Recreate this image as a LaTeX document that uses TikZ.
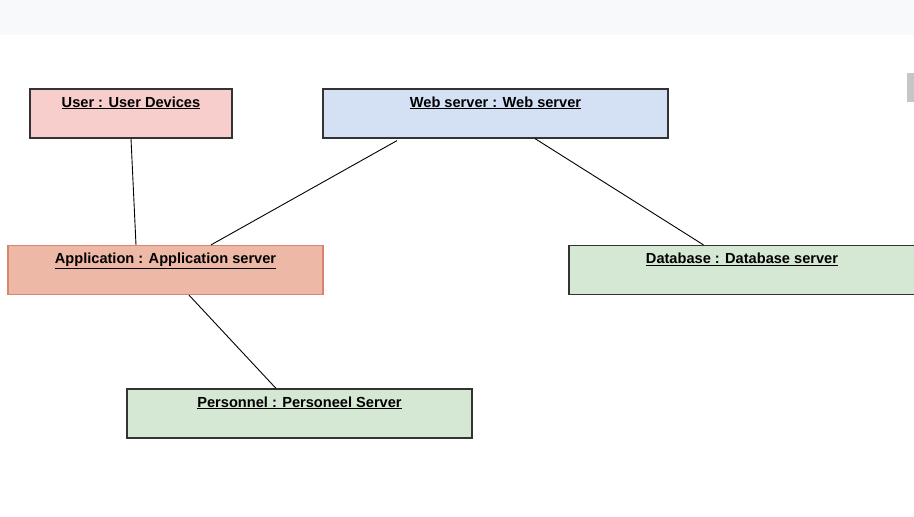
\documentclass[tikz,border=0pt]{standalone}
\usepackage{fontspec}
\setmainfont{Liberation Sans}
\definecolor{userfill}{HTML}{F8CECC}
\definecolor{webfill}{HTML}{D4E1F5}
\definecolor{appfill}{HTML}{EEB8A6}
\definecolor{appline}{HTML}{D9846C}
\definecolor{greenfill}{HTML}{D5E8D4}
\definecolor{boxline}{HTML}{333333}
\definecolor{topbar}{HTML}{F8F9FA}
\tikzset{
  devbox/.style={draw=boxline, line width=1.2pt, rectangle,
    font=\bfseries\fontsize{14.6}{16}\selectfont,
    text height=12pt, text depth=25pt, inner ysep=6pt, minimum height=49pt},
  link/.style={draw=black, line width=0.9pt}
}
\begin{document}
\begin{tikzpicture}[x=1pt, y=-1pt]
  \useasboundingbox (0,0) rectangle (914,517);
  \fill[topbar] (0,0) rectangle (914,35);
  \fill[gray!45] (907,73) rectangle (914,102);

  \node (user) [devbox, fill=userfill, minimum width=202pt] at (131,113.5) {\underline{User : User Devices}};
  \node (web) [devbox, fill=webfill, minimum width=345pt] at (495.5,113.5) {\underline{Web server : Web server}};
  \node (app) [devbox, fill=appfill, draw=appline, minimum width=315pt] at (165.5,270) {\underline{Application : Application server}};
  \node (db) [devbox, fill=greenfill, minimum width=346pt] at (742,270) {\underline{Database : Database server}};
  \node (pers) [devbox, fill=greenfill, minimum width=345pt] at (299.5,413.5) {\underline{Personnel : Personeel Server}};

  \draw[link] (user.south) -- ([xshift=-29.5pt]app.north);
  \draw[link] ([xshift=-98.5pt,yshift=-2pt]web.south) -- ([xshift=45.5pt]app.north);
  \draw[link] ([xshift=39.5pt]web.south) -- ([xshift=-38.5pt]db.north);
  \draw[link] ([xshift=23.5pt]app.south) -- ([xshift=-23.5pt]pers.north);
\end{tikzpicture}
\end{document}
